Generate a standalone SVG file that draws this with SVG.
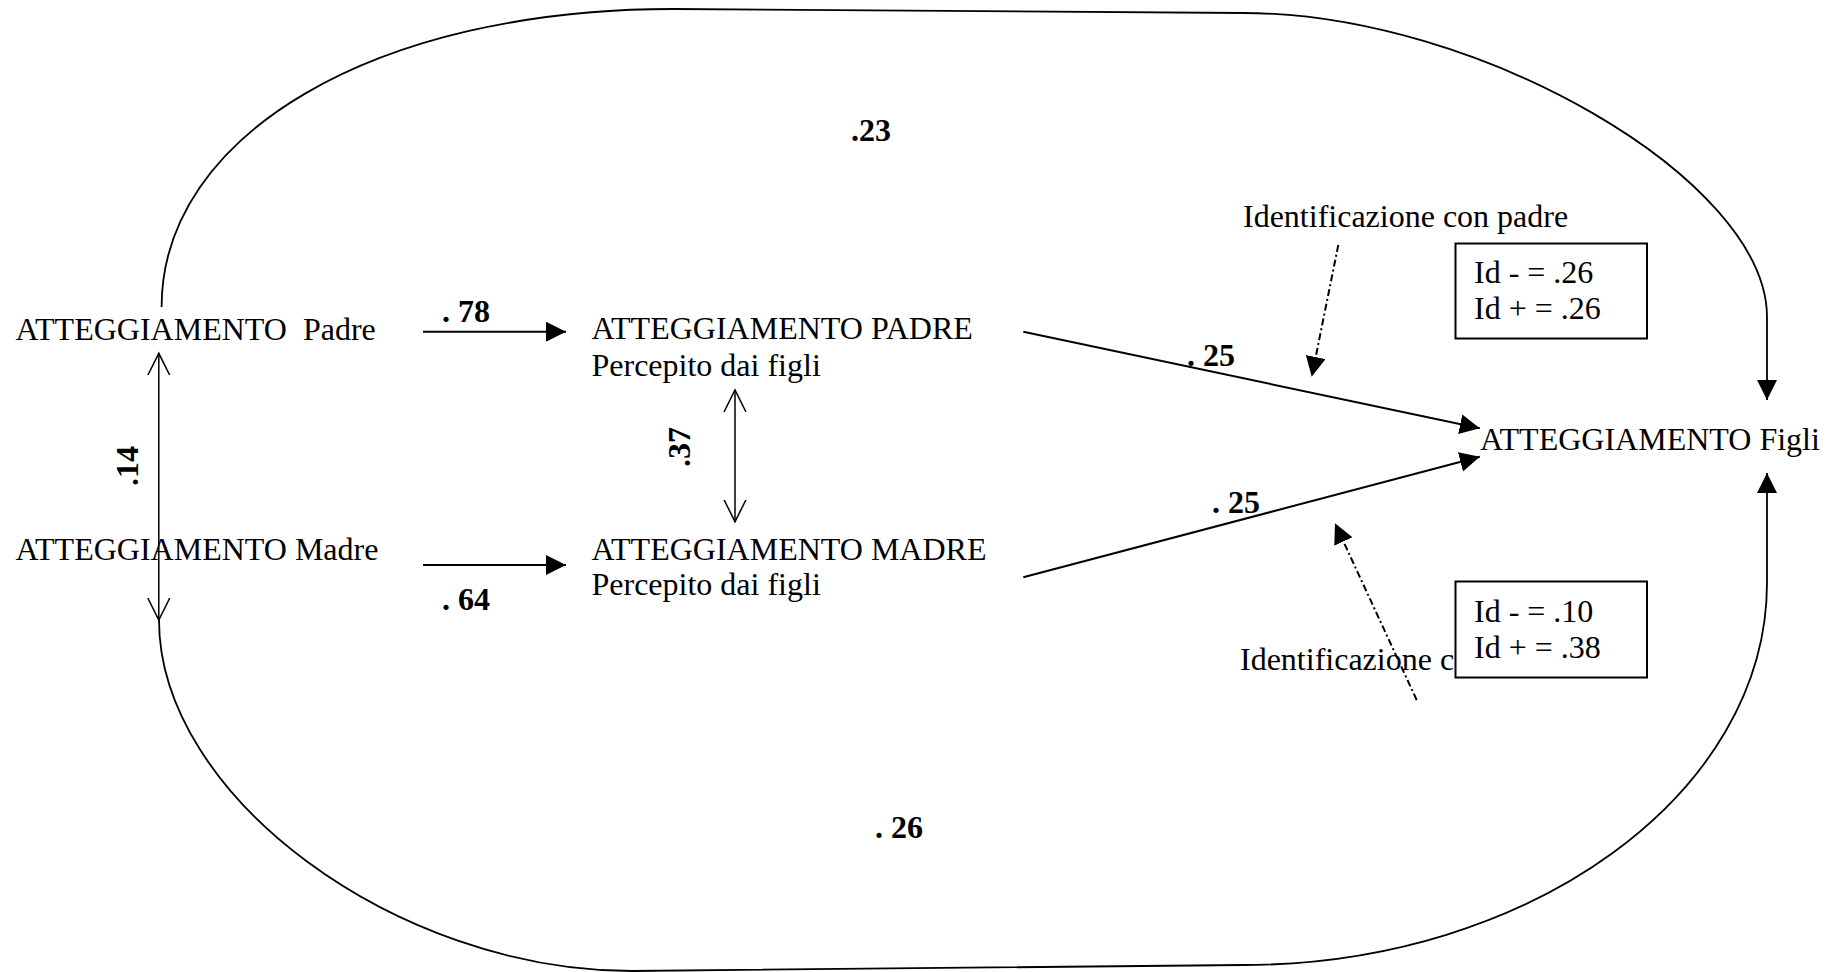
<svg xmlns="http://www.w3.org/2000/svg" width="1836" height="972" viewBox="0 0 1836 972">
<style>
  text { font-family: "Liberation Serif", "Times New Roman", serif; font-size: 32px; fill: #000; white-space: pre; }
  .b { font-weight: bold; }
  .ln { stroke: #000; stroke-width: 2; fill: none; }
  .curve { stroke: #000; stroke-width: 1.8; fill: none; }
  .thin { stroke: #000; stroke-width: 1.5; fill: none; }
  .dash { stroke: #000; stroke-width: 2; fill: none; stroke-dasharray: 7 3 2 3; }
  .box { fill: #fff; stroke: #000; stroke-width: 2; }
</style>
<defs>
  <marker id="solid" markerUnits="userSpaceOnUse" markerWidth="22" markerHeight="22" refX="20" refY="10" orient="auto" viewBox="0 0 22 22">
    <path d="M0,0 L20,10 L0,20 z" fill="#000"/>
  </marker>
  <marker id="open" markerUnits="userSpaceOnUse" markerWidth="26" markerHeight="26" refX="22" refY="12" orient="auto-start-reverse" viewBox="0 0 26 26">
    <path d="M0,1 L22,12 L0,23" fill="none" stroke="#000" stroke-width="1.5"/>
  </marker>
</defs>
<rect width="1836" height="972" fill="#fff"/>

<g id="connectors">
  <path class="curve" d="M161.6,307 C161.6,134 376,9 673,9 L1243,13 C1479,13 1767,180 1767,317 L1767,400" marker-end="url(#solid)"/>
  <path class="curve" d="M159,620 C159,796 396,971 632,971 L1243,965 C1531,965 1767,793 1767,583 L1767,473" marker-end="url(#solid)"/>
  <line class="ln" x1="423" y1="331.7" x2="566" y2="331.7" marker-end="url(#solid)"/>
  <line class="ln" x1="423" y1="565" x2="566" y2="565" marker-end="url(#solid)"/>
  <line class="thin" x1="158.8" y1="353.3" x2="158.8" y2="620" marker-start="url(#open)" marker-end="url(#open)"/>
  <line class="thin" x1="735" y1="390" x2="735" y2="521.7" marker-start="url(#open)" marker-end="url(#open)"/>
  <line class="ln" x1="1023.3" y1="331.7" x2="1479.8" y2="428.3" marker-end="url(#solid)"/>
  <line class="ln" x1="1023.3" y1="577.3" x2="1479.8" y2="456.7" marker-end="url(#solid)"/>
  <line class="dash" x1="1338.3" y1="245" x2="1311.7" y2="376.7" marker-end="url(#solid)"/>
  <line class="dash" x1="1416.7" y1="700" x2="1335" y2="523.3" marker-end="url(#solid)"/>
</g>

<g id="labels">
  <text class="b" x="442" y="322">. 78</text>
  <text class="b" x="442" y="610">. 64</text>
  <text class="b" x="851" y="141">.23</text>
  <text class="b" x="875" y="838">. 26</text>
  <text class="b" x="1187" y="366">. 25</text>
  <text class="b" x="1212" y="513">. 25</text>
  <text class="b" text-anchor="middle" transform="translate(137.5,466) rotate(-90)">.14</text>
  <text class="b" text-anchor="middle" transform="translate(689.5,447) rotate(-90)">.37</text>
</g>

<g id="node-padre">
  <text x="15.5" y="340">ATTEGGIAMENTO  Padre</text>
</g>
<g id="node-madre">
  <text x="15.5" y="560">ATTEGGIAMENTO Madre</text>
</g>
<g id="node-padre-percepito">
  <text x="591.5" y="339">ATTEGGIAMENTO PADRE</text>
  <text x="591.5" y="376">Percepito dai figli</text>
</g>
<g id="node-madre-percepito">
  <text x="591.5" y="560">ATTEGGIAMENTO MADRE</text>
  <text x="591.5" y="595">Percepito dai figli</text>
</g>
<g id="node-figli">
  <text x="1480" y="450">ATTEGGIAMENTO Figli</text>
</g>
<g id="node-id-padre">
  <text x="1243" y="227">Identificazione con padre</text>
</g>
<g id="node-id-madre">
  <text x="1240" y="670">Identificazione c</text>
</g>
<g id="box-padre">
  <rect class="box" x="1455.5" y="243.5" width="191.5" height="95"/>
  <text x="1474" y="283">Id - = .26</text>
  <text x="1474" y="319">Id + = .26</text>
</g>
<g id="box-madre">
  <rect class="box" x="1455.5" y="581.5" width="191.5" height="96"/>
  <text x="1474" y="622">Id - = .10</text>
  <text x="1474" y="658">Id + = .38</text>
</g>
</svg>
